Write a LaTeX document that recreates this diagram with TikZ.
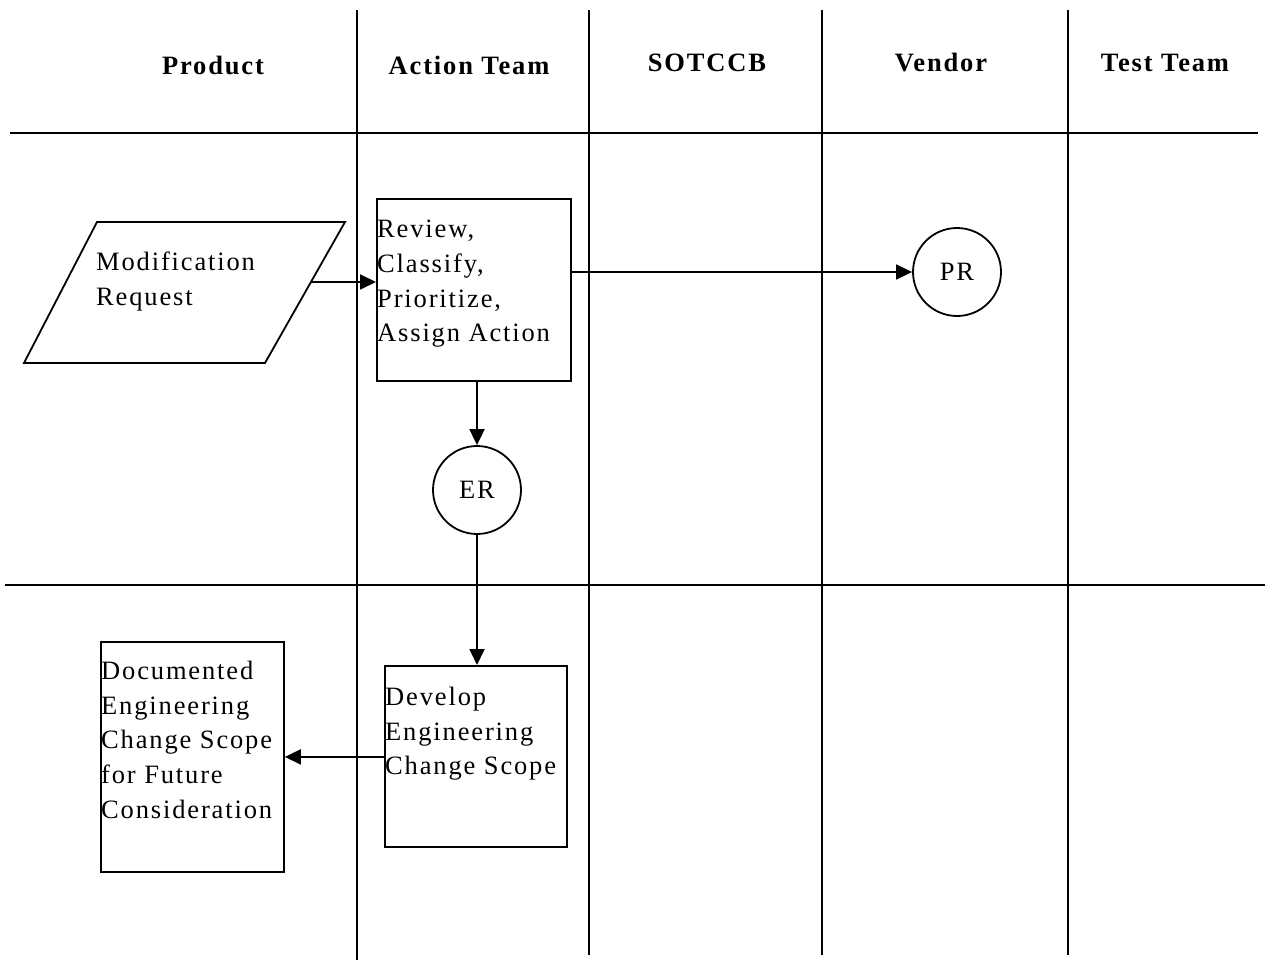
\documentclass[tikz,border=0pt]{standalone}
\usepackage{fontspec}
\setmainfont{Liberation Serif}[LetterSpace=7]
\usetikzlibrary{arrows.meta}
\begin{document}
\begin{tikzpicture}[x=1pt,y=-1pt,
  lane/.style={line width=1.8pt},
  box/.style={draw,line width=1.8pt,inner sep=0,anchor=north west},
  txt/.style={inner sep=0,anchor=north west,align=left,font=\fontsize{26.5}{34.7}\selectfont},
  hdr/.style={inner sep=0,font=\fontsize{26.5}{30}\selectfont\bfseries},
  circ/.style={draw,circle,line width=1.8pt,minimum size=88pt,inner sep=0,font=\fontsize{26.5}{30}\selectfont},
  arr/.style={line width=1.8pt,-{Triangle[length=16pt,width=15pt]}}]
\useasboundingbox (0,0) rectangle (1265,960);
% lanes
\draw[lane] (357,10) -- (357,960);
\draw[lane] (589,10) -- (589,955);
\draw[lane] (822,10) -- (822,955);
\draw[lane] (1068,10) -- (1068,955);
\draw[line width=2pt] (10,133) -- (1258,133);
\draw[line width=2pt] (5,585) -- (1265,585);
% headers
\node[hdr] (h1) at (213,65) {Product};
\node[hdr] (h2) at (469,65) {Action Team};
\node[hdr] (h3) at (707,63) {SOTCCB};
\node[hdr] (h4) at (941,63) {Vendor};
\node[hdr] (h5) at (1165,63) {Test Team};
% parallelogram
\draw[line width=1.8pt] (97,222) -- (345,222) -- (265,363) -- (24,363) -- cycle;
\node[txt] (mr) at (96,252) {Modification\\Request};
\coordinate (mrR) at (311,282);
% review box
\node[box,minimum width=194pt,minimum height=182pt] (rev) at (376,198) {};
\node[txt] (revt) at (377,220) {Review,\\Classify,\\Prioritize,\\Assign Action};
% circles
\node[circ] (pr) at (957,272) {PR};
\node[circ] (er) at (477,490) {ER};
% develop box
\node[box,minimum width=182pt,minimum height=181pt] (dev) at (384,665) {};
\node[txt] (devt) at (385,687) {Develop\\Engineering\\Change Scope};
% documented box
\node[box,minimum width=183pt,minimum height=230pt] (doc) at (100,641) {};
\node[txt] (doct) at (101,661) {Documented\\Engineering\\Change Scope\\for Future\\Consideration};
% arrows
\draw[arr] (mrR) -- (rev.west |- mrR);
\draw[arr] (rev.east |- pr) -- (pr.west);
\draw[arr] (rev.south -| er) -- (er.north);
\draw[arr] (er.south) -- (dev.north -| er);
\draw[arr] (dev.west |- doc) -- (doc.east);
\end{tikzpicture}
\end{document}
